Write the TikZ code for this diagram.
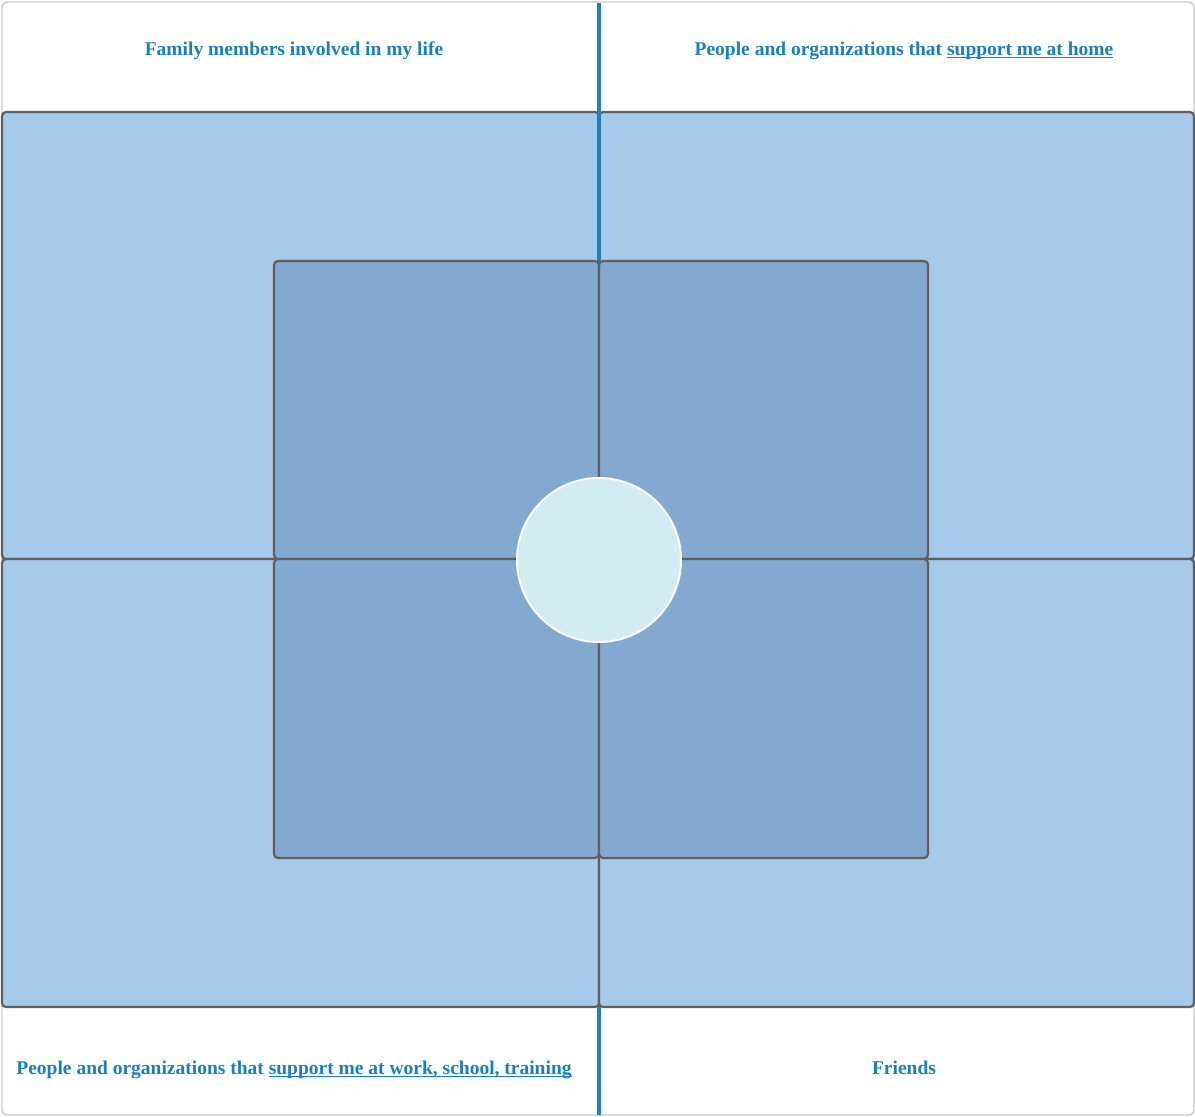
\documentclass[tikz,border=0pt]{standalone}
\usepackage{fontspec}
\setmainfont{Liberation Serif}
\definecolor{txtblue}{HTML}{1A7FC0}
\definecolor{lineblue}{HTML}{1F80C4}
\definecolor{outerfill}{HTML}{A7C9EA}
\definecolor{innerfill}{HTML}{84A9D0}
\definecolor{edgegray}{HTML}{5F5F5F}
\definecolor{framegray}{HTML}{C8C8C8}
\definecolor{centerfill}{HTML}{D3EBF2}
\newsavebox{\myulbox}
\newcommand{\myul}[1]{\sbox{\myulbox}{#1}\rlap{\rule[-3.2pt]{\wd\myulbox}{1.5pt}}\usebox{\myulbox}}
\tikzset{
  outerbox/.style={draw=edgegray, line width=2.2pt, fill=outerfill, rounded corners=4pt},
  innerbox/.style={draw=edgegray, line width=2.2pt, fill=innerfill, rounded corners=4pt},
  label/.style={text=txtblue, font=\fontsize{19.5}{23}\selectfont\bfseries, inner sep=0pt}
}
\begin{document}
\begin{tikzpicture}[x=1pt,y=-1pt]
\useasboundingbox (0,0) rectangle (1195,1117);
\draw[framegray, line width=1.4pt, fill=white, rounded corners=5pt] (2,2) rectangle (1194,1115);
% top outer boxes
\draw[outerbox] (2,112) rectangle (599,559);
\draw[outerbox] (599,112) rectangle (1194,559);
% vertical blue line
\coordinate (ltop) at (599,3);
\coordinate (lbot) at (599,1115);
\draw[lineblue, line width=3.4pt] (ltop) -- (lbot);
% bottom outer boxes
\draw[outerbox] (2,559) rectangle (599,1007);
\draw[outerbox] (599,559) rectangle (1194,1007);
% inner boxes
\draw[innerbox] (274,261) rectangle (599,559);
\draw[innerbox] (599,261) rectangle (928,559);
\draw[innerbox] (274,559) rectangle (599,858);
\draw[innerbox] (599,559) rectangle (928,858);
% center circle
\node[circle, draw=white, line width=2pt, fill=centerfill, minimum size=164pt, inner sep=0pt] (center) at (599,560) {};
% labels
\node[label, anchor=base] (family) at (294,55) {Family members involved in my life};
\node[label, anchor=base] (home) at (904,55) {People and organizations that \myul{support me at home}};
\node[label, anchor=base] (work) at (294,1074) {People and organizations that \myul{support me at work, school, training}};
\node[label, anchor=base] (friends) at (904,1074) {Friends};
\end{tikzpicture}
\end{document}
